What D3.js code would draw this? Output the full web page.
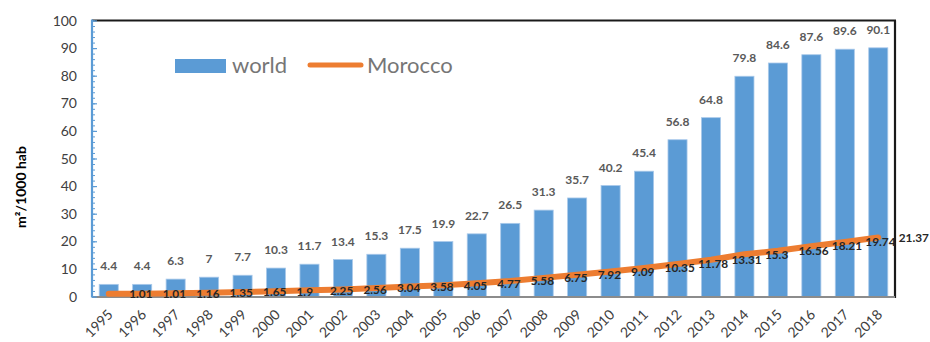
<!DOCTYPE html>
<html>
<head>
<meta charset="utf-8">
<script src="https://cdn.jsdelivr.net/npm/d3@7"></script>
<style>
  html, body { margin: 0; padding: 0; background: #fff; }
  svg { display: block; font-family: Lato, "Open Sans", "DejaVu Sans", sans-serif; }
</style>
</head>
<body>
<svg id="chart" width="930" height="342"></svg>
<script>
// Office space per 1000 inhabitants, world vs Morocco
const years = ["1995","1996","1997","1998","1999","2000","2001","2002","2003","2004","2005","2006",
               "2007","2008","2009","2010","2011","2012","2013","2014","2015","2016","2017","2018"];
const world = [4.4, 4.4, 6.3, 7, 7.7, 10.3, 11.7, 13.4, 15.3, 17.5, 19.9, 22.7,
               26.5, 31.3, 35.7, 40.2, 45.4, 56.8, 64.8, 79.8, 84.6, 87.6, 89.6, 90.1];
const morocco = [1.01, 1.01, 1.16, 1.35, 1.65, 1.9, 2.25, 2.56, 3.04, 3.58, 4.05, 4.77,
                 5.58, 6.75, 7.92, 9.09, 10.35, 11.78, 13.31, 15.3, 16.56, 18.21, 19.74, 21.37];
const yTicks = [0, 10, 20, 30, 40, 50, 60, 70, 80, 90, 100];
const seriesNames = ["world", "Morocco"];
const yTitle = "m²/1000 hab";

const blue = "#5B9BD5", orange = "#ED7D31";
const plot = { left: 92, right: 895, top: 20.5, bottom: 296.5 };

const svg = d3.select("#chart");

const x = d3.scaleBand().domain(years)
  .range([plot.left, plot.right])
  .paddingInner(0.43).paddingOuter(0.215);
const cx = d => x(d) + x.bandwidth() / 2;
const y = d3.scaleLinear().domain([0, 100]).range([plot.bottom, plot.top]);

// bars
svg.append("g").selectAll("rect").data(years).join("rect")
  .attr("x", d => x(d))
  .attr("width", x.bandwidth())
  .attr("y", (d, i) => y(world[i]))
  .attr("height", (d, i) => y(0) - y(world[i]))
  .attr("fill", blue)
  .attr("stroke", "#a9c9ea")
  .attr("stroke-width", 0.8);

// world value labels
svg.append("g").selectAll("text").data(years).join("text")
  .attr("x", d => cx(d))
  .attr("y", (d, i) => y(world[i]) - 14)
  .attr("text-anchor", "middle")
  .attr("font-size", 12).attr("font-weight", "bold")
  .attr("fill", "#595959")
  .text((d, i) => world[i]);

// plot frame: top and right in black, bottom axis grey
svg.append("line").attr("x1", plot.left).attr("x2", plot.right + 1)
  .attr("y1", plot.top).attr("y2", plot.top)
  .attr("stroke", "#1a1a1a").attr("stroke-width", 2.2);
svg.append("line").attr("x1", plot.right).attr("x2", plot.right)
  .attr("y1", plot.top).attr("y2", plot.bottom + 1.5)
  .attr("stroke", "#1a1a1a").attr("stroke-width", 2.2);
svg.append("line").attr("x1", plot.left).attr("x2", plot.right)
  .attr("y1", plot.bottom + 0.5).attr("y2", plot.bottom + 0.5)
  .attr("stroke", "#8c8c8c").attr("stroke-width", 2);

// Morocco line
const line = d3.line().x((d, i) => cx(years[i])).y(d => y(d));
svg.append("path").datum(morocco)
  .attr("d", line)
  .attr("fill", "none")
  .attr("stroke", orange)
  .attr("stroke-width", 6)
  .attr("stroke-linecap", "round")
  .attr("stroke-linejoin", "round");

// Morocco value labels, placed right of each point
svg.append("g").selectAll("text").data(years).join("text")
  .attr("x", d => cx(d) + 20.5)
  .attr("y", (d, i) => y(morocco[i]))
  .attr("dy", "0.36em")
  .attr("font-size", 11.8).attr("font-weight", "bold")
  .attr("fill", "#262626")
  .text((d, i) => morocco[i]);

// y axis with minor ticks pointing inwards
const yAxisG = svg.append("g").attr("transform", `translate(${plot.left},0)`);
yAxisG.append("g")
  .call(d3.axisRight(y).tickValues(d3.range(0, 101, 2)).tickSize(3).tickFormat(""))
  .call(g => g.select(".domain").remove())
  .selectAll("line").attr("stroke", blue).attr("stroke-width", 1);
yAxisG.append("g")
  .call(d3.axisRight(y).tickValues(yTicks).tickSize(5).tickFormat(""))
  .call(g => g.select(".domain").remove())
  .selectAll("line").attr("stroke", blue).attr("stroke-width", 1.2);
yAxisG.append("line").attr("y1", plot.top - 1).attr("y2", plot.bottom + 1)
  .attr("stroke", blue).attr("stroke-width", 2.2);
svg.append("g").selectAll("text").data(yTicks).join("text")
  .attr("x", 77).attr("y", d => y(d)).attr("dy", "0.36em")
  .attr("text-anchor", "end")
  .attr("font-size", 14).attr("fill", "#404040")
  .text(d => d);

// x axis labels, rotated
svg.append("g").selectAll("text").data(years).join("text")
  .attr("transform", d => `translate(${cx(d) + 5},${315.5}) rotate(-45)`)
  .attr("text-anchor", "end")
  .attr("font-size", 14).attr("fill", "#404040")
  .text(d => d);

// y axis title
svg.append("text")
  .attr("transform", "translate(26,187) rotate(-90)")
  .attr("text-anchor", "middle")
  .attr("font-size", 14).attr("font-weight", "bold")
  .attr("fill", "#000")
  .text(yTitle);

// legend
const lg = svg.append("g");
lg.append("rect").attr("x", 175).attr("y", 59).attr("width", 51).attr("height", 14).attr("fill", blue);
lg.append("text").attr("x", 232).attr("y", 73).attr("font-size", 22).attr("fill", "#767676").text(seriesNames[0]);
lg.append("line").attr("x1", 310).attr("x2", 361).attr("y1", 65).attr("y2", 65)
  .attr("stroke", orange).attr("stroke-width", 5).attr("stroke-linecap", "round");
lg.append("text").attr("x", 367).attr("y", 73).attr("font-size", 22).attr("fill", "#767676").text(seriesNames[1]);
</script>
</body>
</html>
